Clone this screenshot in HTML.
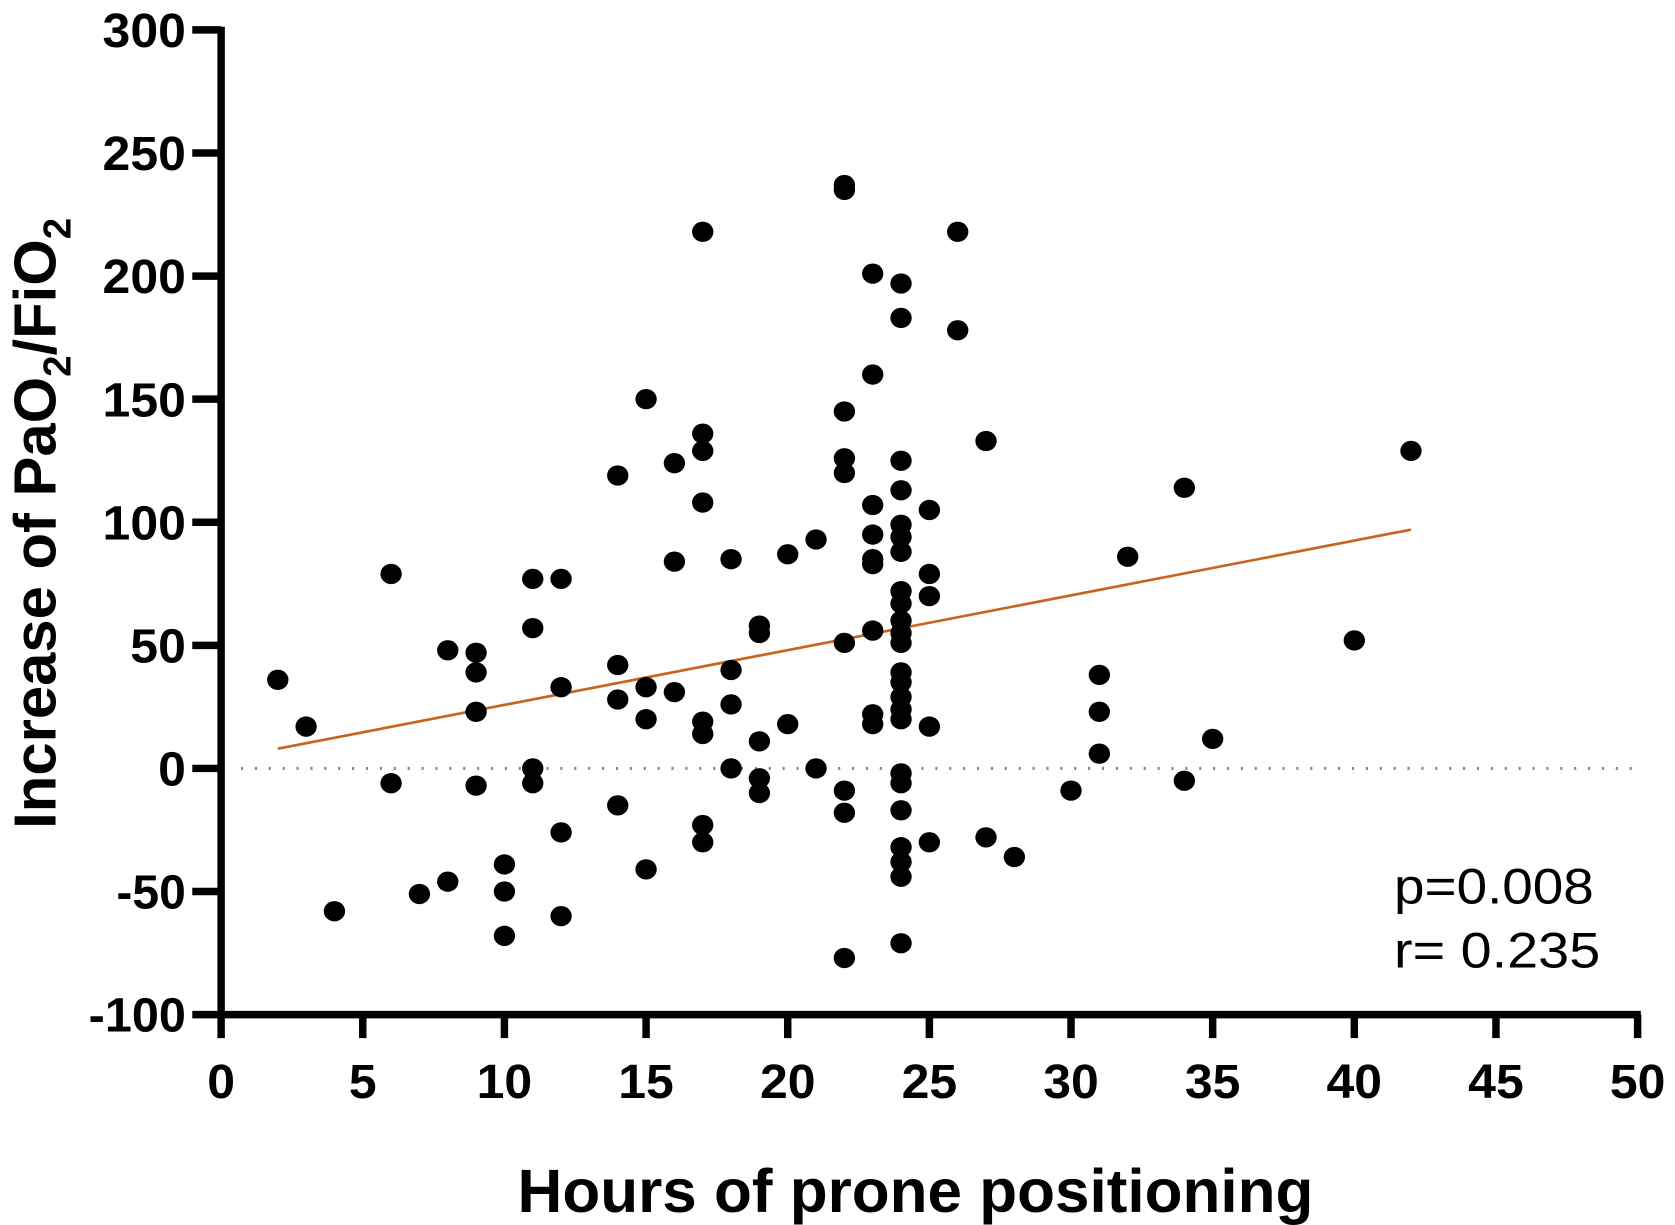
<!DOCTYPE html>
<html><head><meta charset="utf-8"><style>
html,body{margin:0;padding:0;background:#fff;}
svg{display:block;}
text{font-family:"Liberation Sans",Arial,sans-serif;}
</style></head><body>
<svg id="chart" width="1675" height="1225" viewBox="0 0 1568 1147" preserveAspectRatio="none" xmlns="http://www.w3.org/2000/svg">
<g id="grid"></g>
<g id="axes"></g>
<g id="marks"></g>
<text x="857" y="1135" text-anchor="middle" font-size="57" font-weight="bold" textLength="745" lengthAdjust="spacingAndGlyphs">Hours of prone positioning</text>
<text transform="translate(52,490) rotate(-90)" text-anchor="middle" font-size="56" font-weight="bold">Increase of PaO<tspan font-size="36" dy="14">2</tspan><tspan dy="-14">/FiO</tspan><tspan font-size="36" dy="14">2</tspan></text>
<text x="1305" y="846" font-size="47" textLength="187" lengthAdjust="spacingAndGlyphs">p=0.008</text>
<text x="1305" y="906" font-size="47" textLength="193" lengthAdjust="spacingAndGlyphs">r= 0.235</text>
</svg>
<script>
const hours = [2,3,4,6,6,7,8,8,9,9,9,9,10,10,10,11,11,11,11,12,12,12,12,14,14,14,14,15,15,15,15,16,16,16,17,17,17,17,17,17,17,17,18,18,18,18,19,19,19,19,19,20,20,21,21,22,22,22,22,22,22,22,22,22,23,23,23,23,23,23,23,23,23,24,24,24,24,24,24,24,24,24,24,24,24,24,24,24,24,24,24,24,24,24,24,24,24,25,25,25,25,25,26,26,27,27,28,30,31,31,31,32,34,34,35,40,42];
const increase = [36,17,-58,79,-6,-51,48,-46,47,39,23,-7,-39,-50,-68,77,57,0,-6,77,33,-26,-60,119,42,28,-15,150,33,20,-41,124,84,31,218,136,129,108,19,14,-23,-30,85,40,26,0,58,55,11,-4,-10,87,18,93,0,237,235,145,126,120,51,-9,-18,-77,201,160,107,95,85,83,56,22,18,197,183,125,113,99,94,88,72,67,60,55,51,39,35,29,24,20,-2,-6,-17,-32,-38,-44,-71,105,79,70,17,-30,218,178,133,-28,-36,-9,38,23,6,86,114,-5,12,52,129];
const fitX = [2,42];
const fitY = [8,97];
const xTicks = [0,5,10,15,20,25,30,35,40,45,50];
const yTicks = [-100,-50,0,50,100,150,200,250,300];

const NS="http://www.w3.org/2000/svg";
const X0=207,X1=1533,Y0=950,Y1=28;
function sx(v){return X0+(v-0)/(50-0)*(X1-X0);}
function sy(v){return Y0-(v+100)/(400)*(Y0-Y1);}
function mk(tag,attrs,parent){const e=document.createElementNS(NS,tag);for(const k in attrs)e.setAttribute(k,attrs[k]);parent.appendChild(e);return e;}
const axes=document.getElementById('axes'),marks=document.getElementById('marks'),grid=document.getElementById('grid');

const zl=mk('line',{x1:sx(0.7),x2:sx(50),y1:sy(0),y2:sy(0),stroke:'#888','stroke-width':3,'stroke-dasharray':'2 11'},grid);



const ya=mk('line',{x1:X0,x2:X0,y1:Y1-3,y2:Y0+3,stroke:'#000','stroke-width':7},axes);


const xa=mk('line',{x1:X0-3,x2:X1+3,y1:Y0,y2:Y0,stroke:'#000','stroke-width':7},axes);



yTicks.forEach(v=>{
  const t=mk('line',{x1:X0-27,x2:X0,y1:sy(v),y2:sy(v),stroke:'#000','stroke-width':7},axes);
  
  
  const s=String(v);
  const w=s.replace('-','').length*26+(s[0]==='-'?13:0);
  const l=mk('text',{x:X0-33,y:sy(v)+16,'text-anchor':'end','font-size':45,'font-weight':'bold',textLength:w,lengthAdjust:'spacingAndGlyphs'},axes);
  l.textContent=v;
  
  
});
xTicks.forEach(v=>{
  const t=mk('line',{x1:sx(v),x2:sx(v),y1:Y0,y2:Y0+22,stroke:'#000','stroke-width':7},axes);
  
  
  const w=String(v).length*26;
  const l=mk('text',{x:sx(v),y:Y0+78,'text-anchor':'middle','font-size':45,'font-weight':'bold',textLength:w,lengthAdjust:'spacingAndGlyphs'},axes);
  l.textContent=v;
  
  
});

const fl=mk('line',{x1:sx(fitX[0]),y1:sy(fitY[0]),x2:sx(fitX[1]),y2:sy(fitY[1]),stroke:'#c8641e','stroke-width':2.5},marks);



hours.forEach((h,i)=>{
  const c=mk('ellipse',{cx:sx(h),cy:sy(increase[i]),rx:10,ry:9.5,fill:'#000'},marks);
  
  
});
</script>
</body></html>
